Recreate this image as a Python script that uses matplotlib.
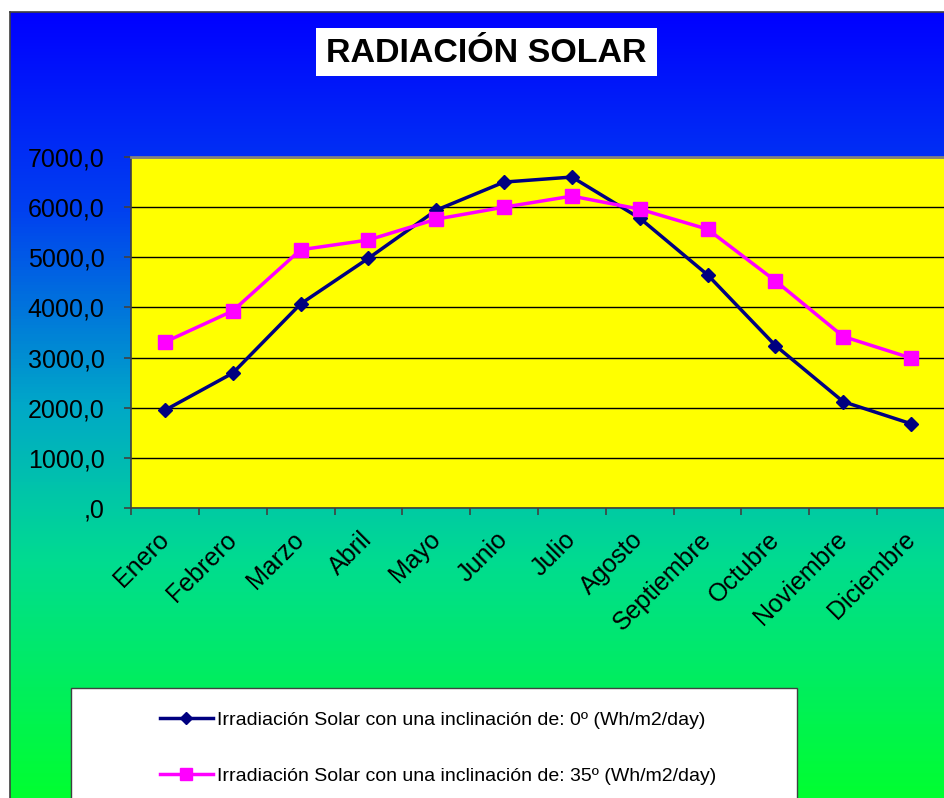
import numpy as np
import matplotlib
matplotlib.use("Agg")
import matplotlib.pyplot as plt
from matplotlib.colors import LinearSegmentedColormap
from matplotlib.lines import Line2D
from matplotlib.patches import Rectangle
from matplotlib.ticker import FuncFormatter

plt.rcParams["font.family"] = ["Liberation Sans", "DejaVu Sans"]

meses = ["Enero", "Febrero", "Marzo", "Abril", "Mayo", "Junio", "Julio",
         "Agosto", "Septiembre", "Octubre", "Noviembre", "Diciembre"]
irr_0 = [1950, 2690, 4070, 4980, 5940, 6500, 6600, 5780, 4650, 3240, 2120, 1680]
irr_35 = [3310, 3930, 5150, 5345, 5760, 6000, 6220, 5960, 5560, 4530, 3420, 2990]
label_0 = "Irradiación Solar con una inclinación de: 0º (Wh/m2/day)"
label_35 = "Irradiación Solar con una inclinación de: 35º (Wh/m2/day)"

W, H = 944, 798
fig = plt.figure(figsize=(W / 100, H / 100), dpi=100)
fig.patch.set_facecolor("white")


def fx(px):
    return px / W


def fy(py):
    return 1 - py / H


# gradient background (blue -> teal -> green)
bg = fig.add_axes([fx(10), 0, 1 - fx(10), fy(12)], zorder=0)
cmap = LinearSegmentedColormap.from_list(
    "bg", [(0.0, "#0000ff"), (0.25, "#0040f0"), (0.5, "#00a8c8"),
           (0.7, "#00dc90"), (1.0, "#00ff30")])
grad = np.linspace(0, 1, 256).reshape(-1, 1)
bg.imshow(grad, aspect="auto", cmap=cmap, extent=[0, 1, 0, 1], origin="upper")
bg.set_xlim(0, 1)
bg.set_ylim(0, 1)
bg.set_xticks([])
bg.set_yticks([])
for side in ["right", "bottom"]:
    bg.spines[side].set_visible(False)
for side in ["left", "top"]:
    bg.spines[side].set_color("#404040")
    bg.spines[side].set_linewidth(1.2)

# title box
fig.patches.append(Rectangle((fx(316), fy(76)), fx(657) - fx(316), fy(28) - fy(76),
                             transform=fig.transFigure, facecolor="white",
                             edgecolor="none", zorder=2))
fig.text(fx(486), fy(53), "RADIACIÓN SOLAR", ha="center", va="center",
         fontsize=24.5, fontweight="bold", zorder=3)

# plot area
ax = fig.add_axes([fx(131), fy(508), fx(945) - fx(131), fy(157) - fy(508)], zorder=2)
ax.set_facecolor("#ffff00")
x = np.arange(len(meses))
ax.plot(x, irr_0, color="#000080", lw=2.5, marker="D", markersize=7,
        label=label_0, zorder=4)
ax.plot(x, irr_35, color="#ff00ff", lw=2.5, marker="s", markersize=10,
        label=label_35, zorder=4)
ax.set_xlim(-0.5, len(meses) - 0.5)
ax.set_ylim(0, 7000)
ax.set_yticks(np.arange(0, 7001, 1000))
ax.yaxis.set_major_formatter(FuncFormatter(
    lambda v, p: ",0" if v == 0 else f"{v:.1f}".replace(".", ",")))
ax.grid(axis="y", color="black", lw=1)
ax.set_axisbelow(True)
ax.set_xticks(x)
ax.set_xticklabels(meses, rotation=45, ha="right", va="center",
                   rotation_mode="anchor")
ax.set_xticks(np.arange(-0.5, len(meses)), minor=True)
ax.tick_params(axis="x", which="major", length=0, pad=20, labelsize=18)
ax.tick_params(axis="x", which="minor", length=5, color="#404040", width=1.2)
ax.tick_params(axis="y", length=5, color="#404040", width=1.2, pad=14, labelsize=18)
ax.spines["right"].set_visible(False)
ax.spines["top"].set_color("#808080")
ax.spines["top"].set_linewidth(2)
for side in ["left", "bottom"]:
    ax.spines[side].set_color("#404040")
    ax.spines[side].set_linewidth(1.2)

# legend box
fig.patches.append(Rectangle((fx(71), fy(800)), fx(797) - fx(71), fy(688) - fy(800),
                             transform=fig.transFigure, facecolor="white",
                             edgecolor="#404040", lw=1, zorder=2))
handles = [
    Line2D([], [], color="#000080", lw=2.5, marker="D", markersize=6),
    Line2D([], [], color="#ff00ff", lw=2.5, marker="s", markersize=9),
]
leg = fig.legend(handles, [label_0, label_35], loc="upper left",
                 bbox_to_anchor=(fx(160), fy(711)), frameon=False,
                 fontsize=14, handlelength=2.7, handletextpad=0.25,
                 labelspacing=2.0, borderpad=0, borderaxespad=0)
leg.set_zorder(5)

fig.savefig("out.png", dpi=100)
